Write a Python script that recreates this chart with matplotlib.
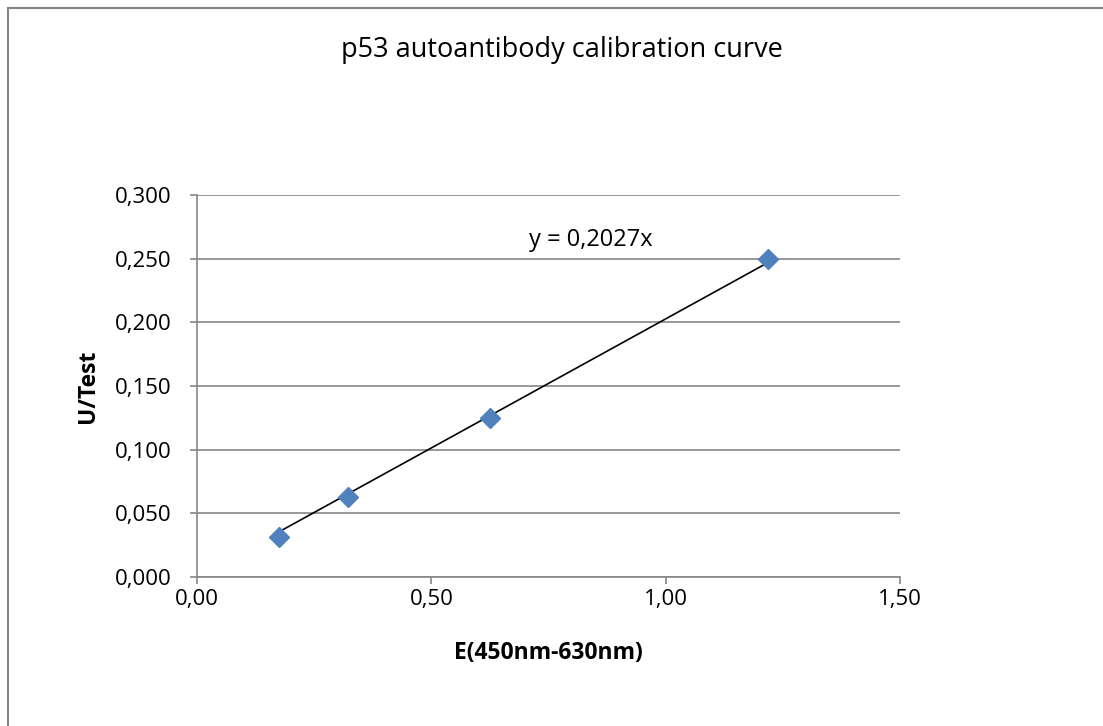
import matplotlib
matplotlib.use('Agg')
import matplotlib.pyplot as plt
from matplotlib.lines import Line2D
from matplotlib.ticker import FuncFormatter, MultipleLocator
import numpy as np

# 数据
extinction = [0.175, 0.322, 0.625, 1.218]
u_test = [0.03125, 0.0625, 0.125, 0.25]
slope = 0.2027

plt.rcParams['font.family'] = ['Open Sans', 'DejaVu Sans']

fig = plt.figure(figsize=(11.03, 7.26), dpi=100)
ax = fig.add_axes([197 / 1103, 1 - 577 / 726, 703 / 1103, 382 / 726])

grey = '#868686'

# 外框（只看得到左边和上边）
fig.add_artist(Line2D([8 / 1103, 8 / 1103], [0, 1 - 8 / 726], color=grey, lw=1.5, transform=fig.transFigure))
fig.add_artist(Line2D([8 / 1103, 1], [1 - 8 / 726, 1 - 8 / 726], color=grey, lw=1.5, transform=fig.transFigure))

# 趋势线
xs = np.array([min(extinction), max(extinction)])
ax.plot(xs, slope * xs, color='black', lw=1.2, zorder=3)
ax.plot(extinction, u_test, linestyle='none', marker='D', markersize=10,
        color='#4F81BD', zorder=4)

ax.set_xlim(0, 1.5)
ax.set_ylim(0, 0.3)
ax.xaxis.set_major_locator(MultipleLocator(0.5))
ax.yaxis.set_major_locator(MultipleLocator(0.05))
ax.xaxis.set_major_formatter(FuncFormatter(lambda v, p: f'{v:.2f}'.replace('.', ',')))
ax.yaxis.set_major_formatter(FuncFormatter(lambda v, p: f'{v:.3f}'.replace('.', ',')))

ax.grid(axis='y', color=grey, lw=1.2)
ax.set_axisbelow(True)
for s in ['top', 'right']:
    ax.spines[s].set_visible(False)
for s in ['left', 'bottom']:
    ax.spines[s].set_color(grey)
    ax.spines[s].set_linewidth(1.2)
ax.tick_params(axis='both', colors=grey, labelcolor='black', labelsize=16,
               length=5, width=1.2, direction='out')
ax.tick_params(axis='x', pad=4)
ax.tick_params(axis='y', pad=13)

ax.set_xlabel('E(450nm-630nm)', fontsize=16.5, fontweight='bold', labelpad=22)
ax.set_ylabel('U/Test', fontsize=16.5, fontweight='bold', labelpad=11)

fig.text(562 / 1103, 1 - 50 / 726, 'p53 autoantibody calibration curve',
         fontsize=19.5, ha='center', va='center')
ax.text(0.84, 0.2647, 'y = 0,2027x', fontsize=17, ha='center', va='center')

fig.savefig('out.png', dpi=100, facecolor='white')
